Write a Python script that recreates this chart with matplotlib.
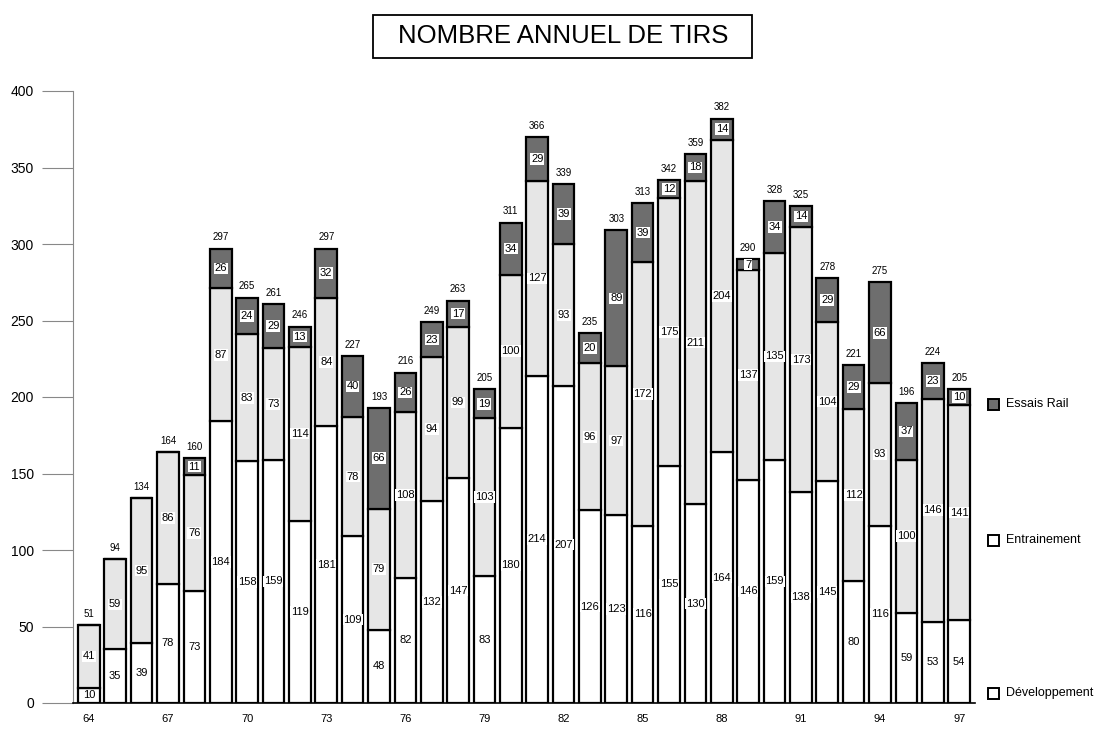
import numpy as np
import matplotlib
matplotlib.use('Agg')
import matplotlib.pyplot as plt
from matplotlib.patches import Rectangle

plt.rcParams['font.family'] = ['Liberation Sans', 'DejaVu Sans']

# annual counts
years = list(range(64, 98))
developpement = [10, 35, 39, 78, 73, 184, 158, 159, 119, 181, 109, 48, 82, 132, 147, 83, 180,
                 214, 207, 126, 123, 116, 155, 130, 164, 146, 159, 138, 145, 80, 116, 59, 53, 54]
entrainement = [41, 59, 95, 86, 76, 87, 83, 73, 114, 84, 78, 79, 108, 94, 99, 103, 100,
                127, 93, 96, 97, 172, 175, 211, 204, 137, 135, 173, 104, 112, 93, 100, 146, 141]
essais_rail = [0, 0, 0, 0, 11, 26, 24, 29, 13, 32, 40, 66, 26, 23, 17, 19, 34,
               29, 39, 20, 89, 39, 12, 18, 14, 7, 34, 14, 29, 29, 66, 37, 23, 10]
totals = [51, 94, 134, 164, 160, 297, 265, 261, 246, 297, 227, 193, 216, 249, 263, 205, 311,
          366, 339, 235, 303, 313, 342, 359, 382, 290, 328, 325, 278, 221, 275, 196, 224, 205]
tick_years = [64, 67, 70, 73, 76, 79, 82, 85, 88, 91, 94, 97]

col_dev = 'white'
col_ent = '#e6e6e6'
col_rail = '#6e6e6e'

fig = plt.figure(figsize=(11.18, 7.4), dpi=100)
ax = fig.add_axes([73 / 1118, 37 / 740, 902 / 1118, 612 / 740])

x = np.arange(len(years))
dev = np.array(developpement)
ent = np.array(entrainement)
rail = np.array(essais_rail)
w = 0.82

ax.bar(x, dev, w, color=col_dev, edgecolor='black', linewidth=1.6, zorder=2)
ax.bar(x, ent, w, bottom=dev, color=col_ent, edgecolor='black', linewidth=1.6, zorder=2)
ax.bar(x, rail, w, bottom=dev + ent, color=col_rail, edgecolor='black', linewidth=1.6, zorder=2)

box = dict(facecolor='white', edgecolor='none', pad=0.6)
for i in range(len(years)):
    ax.text(x[i], dev[i] / 2, str(dev[i]), ha='center', va='center', fontsize=8,
            bbox=box, zorder=4)
    ax.text(x[i], dev[i] + ent[i] / 2, str(ent[i]), ha='center', va='center', fontsize=8,
            bbox=box, zorder=4)
    if rail[i] > 0:
        ax.text(x[i], dev[i] + ent[i] + rail[i] / 2, str(rail[i]), ha='center', va='center',
                fontsize=8, bbox=box, zorder=4)
    ax.text(x[i], dev[i] + ent[i] + rail[i] + 4, str(totals[i]), ha='center', va='bottom',
            fontsize=7)

ax.set_xlim(-0.6, len(years) - 0.4)
ax.set_ylim(0, 400)
ax.set_yticks(range(0, 401, 50))
ax.tick_params(axis='y', length=22, width=0.8, color='#888888', labelsize=10, pad=6)
ax.set_xticks([years.index(t) for t in tick_years])
ax.set_xticklabels([str(t) for t in tick_years], fontsize=8)
ax.tick_params(axis='x', length=0, pad=8)

for s in ['top', 'right']:
    ax.spines[s].set_visible(False)
ax.spines['left'].set_color('#888888')
ax.spines['left'].set_linewidth(0.8)
ax.spines['bottom'].set_linewidth(1.2)

# title in a box
fig.patches.append(Rectangle((373 / 1118, 1 - 58 / 740), 379 / 1118, 43 / 740,
                             transform=fig.transFigure, facecolor='white',
                             edgecolor='black', linewidth=1.3))
fig.text(563 / 1118, 1 - 36 / 740, 'NOMBRE ANNUEL DE TIRS', ha='center', va='center',
         fontsize=18.5)

# legend on the right
legend_items = [('Essais Rail', col_rail, 404), ('Entrainement', col_dev, 540),
                ('Développement', col_dev, 693)]
for label, c, ypix in legend_items:
    fig.patches.append(Rectangle((988 / 1118, 1 - (ypix + 6) / 740), 11 / 1118, 11 / 740,
                                 transform=fig.transFigure, facecolor=c,
                                 edgecolor='black', linewidth=1.4))
    fig.text(1006 / 1118, 1 - ypix / 740, label, ha='left', va='center', fontsize=9)

fig.savefig('out.png', dpi=100)
